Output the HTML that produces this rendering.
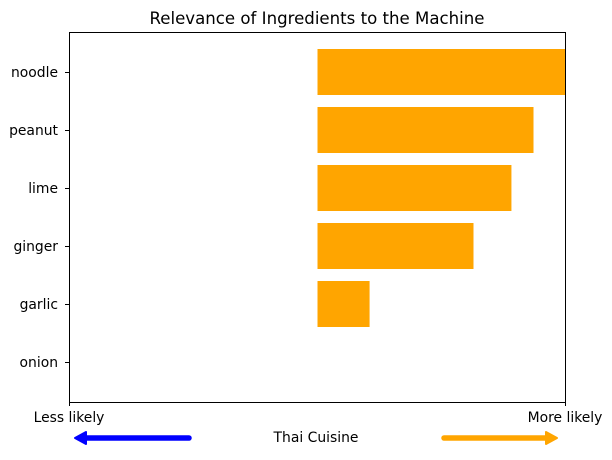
<!DOCTYPE html>
<html><head><meta charset="utf-8"><style>
body{margin:0;background:#fff}
svg text{font-family:"DejaVu Sans","Liberation Sans",sans-serif;font-size:13.9px;fill:#000}
</style></head><body>
<svg id="chart" width="612" height="455" viewBox="0 0 612 455" xmlns="http://www.w3.org/2000/svg">
<text x="317" y="24" text-anchor="middle" style="font-size:16.6px">Relevance of Ingredients to the Machine</text>
<g id="bars"></g>
<rect x="69.5" y="32.5" width="496" height="370" fill="none" stroke="#000" stroke-width="1"/>
<g id="yaxis"></g>
<line x1="69.5" y1="402" x2="69.5" y2="406" stroke="#000"/>
<line x1="565.5" y1="402" x2="565.5" y2="406" stroke="#000"/>
<text x="69" y="422" text-anchor="middle">Less likely</text>
<text x="565" y="422" text-anchor="middle">More likely</text>
<text x="316" y="442" text-anchor="middle">Thai Cuisine</text>
<g>
<line x1="189" y1="438" x2="84" y2="438" stroke="#0000ff" stroke-width="5.5" stroke-linecap="round"/>
<path d="M75 438 L86 432 L86 444 Z" fill="#0000ff" stroke="#0000ff" stroke-width="2" stroke-linejoin="round"/>
</g>
<g>
<line x1="444" y1="438" x2="548" y2="438" stroke="#ffa500" stroke-width="5.5" stroke-linecap="round"/>
<path d="M557 438 L546 432 L546 444 Z" fill="#ffa500" stroke="#ffa500" stroke-width="2" stroke-linejoin="round"/>
</g>
</svg>
<script>
const categories = ["noodle","peanut","lime","ginger","garlic","onion"];
const values = [1.0, 0.871, 0.782, 0.629, 0.21, 0.0];
const NS="http://www.w3.org/2000/svg";
const xMin=-1,xMax=1,pl=69.5,pr=565.5;
function x(v){return pl+(v-xMin)/(xMax-xMin)*(pr-pl);}
function y(i){return 72+58*i;}
const bh=46;
const bars=document.getElementById('bars'), ya=document.getElementById('yaxis');
categories.forEach((c,i)=>{
  const v=values[i];
  const r=document.createElementNS(NS,'rect');
  
  
  r.setAttribute('x',Math.min(x(0),x(v)));
  r.setAttribute('width',Math.abs(x(v)-x(0)));
  r.setAttribute('y',y(i)-bh/2);
  r.setAttribute('height',bh);
  r.setAttribute('fill','#ffa500');
  bars.appendChild(r);
  const t=document.createElementNS(NS,'line');
  
  
  t.setAttribute('x1',65);t.setAttribute('x2',69.5);
  t.setAttribute('y1',y(i)+0.5);t.setAttribute('y2',y(i)+0.5);
  t.setAttribute('stroke','#000');
  ya.appendChild(t);
  const l=document.createElementNS(NS,'text');
  
  
  l.setAttribute('x',58);l.setAttribute('y',y(i)+5);
  l.setAttribute('text-anchor','end');
  l.textContent=c;
  ya.appendChild(l);
});
</script>
</body></html>
